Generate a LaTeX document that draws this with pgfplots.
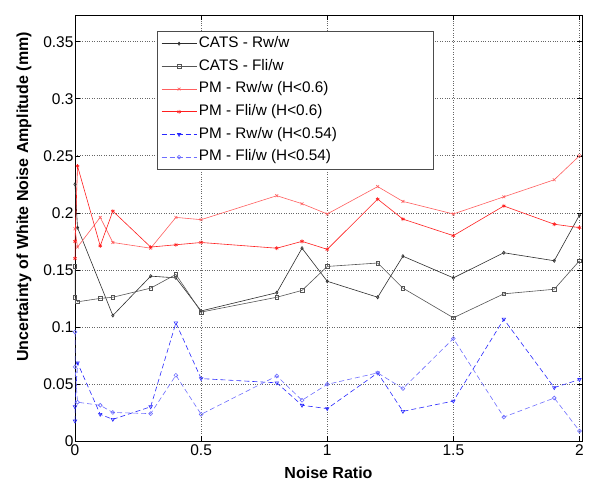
\documentclass[border=0pt]{standalone}
\usepackage{fontspec}
\setmainfont{Liberation Sans}
\usepackage{pgfplots}
\pgfplotsset{compat=1.18}
\definecolor{catsA}{RGB}{45,45,45}
\definecolor{catsB}{RGB}{85,85,85}
\definecolor{pmRa}{RGB}{255,95,95}
\definecolor{pmFa}{RGB}{255,30,30}
\definecolor{pmRb}{RGB}{40,40,255}
\definecolor{pmFb}{RGB}{110,110,255}
\begin{document}
\begin{tikzpicture}
\path[use as bounding box] (-75pt,-44pt) rectangle (518pt,441pt);
\begin{axis}[
  name=ax,
  at={(0,0)}, anchor=south west,
  scale only axis, width=507pt, height=426pt,
  xmin=0, xmax=2.01, ymin=0, ymax=0.3734,
  xtick={0,0.5,1,1.5,2}, ytick={0,0.05,0.1,0.15,0.2,0.25,0.3,0.35},
  xticklabels={0,0.5,1,1.5,2},
  yticklabels={0,0.05,0.1,0.15,0.2,0.25,0.3,0.35},
  xtick pos=both, ytick pos=both, xticklabel pos=lower, yticklabel pos=left,
  tick align=inside, major tick length=5pt,
  tick style={black, line width=0.5pt},
  axis line style={black, line width=0.6pt},
  grid=major, major grid style={dotted, gray!80!black, line width=0.6pt},
  ticklabel style={font=\fontsize{15.5}{18}\selectfont},
  yticklabel style={xshift=2pt},
  xlabel={\bfseries Noise Ratio},
  ylabel={\bfseries Uncertainty of White Noise Amplitude (mm)},
  label style={font=\fontsize{16}{19}\selectfont},
  xlabel style={at={(axis description cs:0.5,-0.0869)}, anchor=base},
  ylabel style={at={(axis description cs:-0.0927,0.573)}, anchor=base},
  legend cell align=left,
  legend style={at={(axis description cs:0.1617,0.9624)}, anchor=north west,
    draw=black!70, line width=0.6pt, fill=white,
    font=\fontsize{15.3}{18}\selectfont,
    inner xsep=4pt, inner ysep=1pt, row sep=0pt,
    nodes={inner ysep=4.3pt, text height=10.7pt, text depth=3.4pt}},
  legend image code/.code={\draw[mark repeat=2,mark phase=2,#1] plot coordinates {(0pt,0pt) (17.5pt,0pt) (35pt,0pt)};},
  every axis plot/.append style={line width=0.6pt},
]
\addplot[color=catsA, mark=diamond, mark size=1.6pt] coordinates {
(0,0.225) (0.01,0.187) (0.15,0.110) (0.3,0.1445) (0.4,0.143) (0.5,0.114)
(0.8,0.130) (0.9,0.169) (1.0,0.140) (1.2,0.126) (1.3,0.162) (1.5,0.143)
(1.7,0.165) (1.9,0.158) (2.0,0.198)};
\addlegendentry{CATS - Rw/w}
\addplot[color=catsB, mark=square, mark size=1.8pt] coordinates {
(0,0.153) (0,0.126) (0.01,0.122) (0.1,0.125) (0.15,0.126) (0.3,0.134)
(0.4,0.146) (0.5,0.113) (0.8,0.126) (0.9,0.132) (1.0,0.153) (1.2,0.156)
(1.3,0.134) (1.5,0.108) (1.7,0.129) (1.9,0.133) (2.0,0.158)};
\addlegendentry{CATS - Fli/w}
\addplot[color=pmRa, mark=x, mark size=2pt] coordinates {
(0,0.186) (0.01,0.170) (0.1,0.196) (0.15,0.174) (0.3,0.169) (0.4,0.196)
(0.5,0.194) (0.8,0.215) (0.9,0.208) (1.0,0.199) (1.2,0.223) (1.3,0.210)
(1.5,0.199) (1.7,0.214) (1.9,0.229) (2.0,0.250)};
\addlegendentry{PM - Rw/w (H<0.6)}
\addplot[color=pmFa, mark=asterisk, mark size=2pt] coordinates {
(0,0.160) (0,0.175) (0.01,0.241) (0.1,0.171) (0.15,0.2015) (0.3,0.170)
(0.4,0.172) (0.5,0.174) (0.8,0.169) (0.9,0.175) (1.0,0.168) (1.2,0.212)
(1.3,0.1945) (1.5,0.180) (1.7,0.206) (1.9,0.190) (2.0,0.187)};
\addlegendentry{PM - Fli/w (H<0.6)}
\addplot[color=pmRb, dash pattern=on 5pt off 3pt, mark=triangle, mark size=2pt,
  mark options={solid, rotate=180}] coordinates {
(0,0.0175) (0,0.030) (0.01,0.0685) (0.1,0.0234) (0.15,0.019) (0.3,0.030)
(0.4,0.1035) (0.5,0.0547) (0.8,0.051) (0.9,0.0313) (1.0,0.0284) (1.2,0.0597)
(1.3,0.026) (1.5,0.035) (1.7,0.1068) (1.9,0.0468) (2.0,0.0539)};
\addlegendentry{PM - Rw/w (H<0.54)}
\addplot[color=pmFb, dash pattern=on 5pt off 3pt, mark=o, mark size=1.9pt,
  mark options={solid}] coordinates {
(0,0.0956) (0,0.065) (0.01,0.034) (0.1,0.0313) (0.15,0.025) (0.3,0.024)
(0.4,0.0576) (0.5,0.0234) (0.8,0.057) (0.9,0.0357) (1.0,0.0497) (1.2,0.0597)
(1.3,0.046) (1.5,0.0898) (1.7,0.021) (1.9,0.0377) (2.0,0.0088)};
\addlegendentry{PM - Fli/w (H<0.54)\hspace*{96pt}}
\end{axis}
\end{tikzpicture}
\end{document}
